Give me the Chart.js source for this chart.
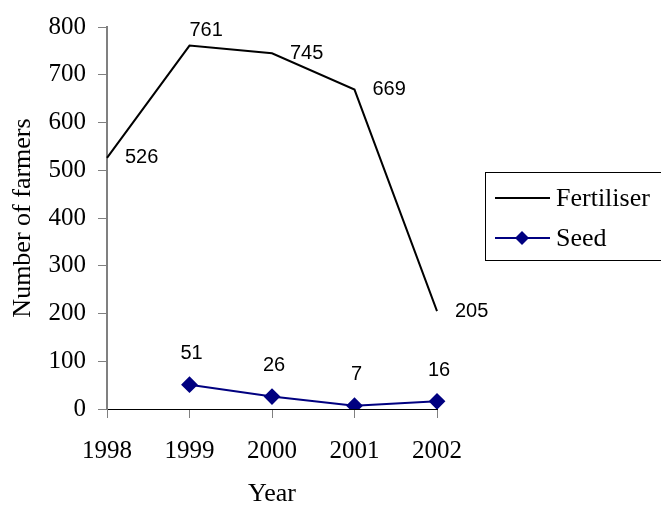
<!DOCTYPE html>
<html>
<head>
<meta charset="utf-8">
<script src="https://cdn.jsdelivr.net/npm/chart.js@4/dist/chart.umd.min.js"></script>
<style>
  html, body { margin: 0; padding: 0; background: #fff; }
  #wrap { width: 661px; height: 506px; }
</style>
</head>
<body>
<div id="wrap"><canvas id="chart" width="661" height="506"></canvas></div>
<script>
// Farmers receiving fertiliser and seed, by year
const years = ['1998', '1999', '2000', '2001', '2002'];
const fertiliser = [526, 761, 745, 669, 205];
const seed = [null, 51, 26, 7, 16];
const yTicks = [0, 100, 200, 300, 400, 500, 600, 700, 800];

const SERIF = '"Liberation Serif", "Times New Roman", Times, serif';
const SANS = '"Liberation Sans", Arial, Helvetica, sans-serif';
const NAVY = '#000080';

// Value labels next to each point
const valueLabels = {
  id: 'valueLabels',
  afterDatasetsDraw(chart) {
    const ctx = chart.ctx;
    ctx.save();
    ctx.font = '20px ' + SANS;
    ctx.fillStyle = '#000';
    ctx.textBaseline = 'middle';
    chart.data.datasets.forEach((ds, di) => {
      const meta = chart.getDatasetMeta(di);
      meta.data.forEach((pt, i) => {
        const v = ds.data[i];
        if (v === null || v === undefined) return;
        const place = (ds.labelPlacement || [])[i] || 'right';
        if (place === 'right') {
          ctx.textAlign = 'left';
          ctx.fillText(String(v), pt.x + 18, pt.y);
        } else if (place === 'aboveRight') {
          ctx.textAlign = 'left';
          ctx.fillText(String(v), pt.x, pt.y - 15);
        } else {
          ctx.textAlign = 'center';
          ctx.fillText(String(v), pt.x + 2, pt.y - 31);
        }
      });
    });
    ctx.restore();
  }
};

// Boxed legend on the right side
const boxLegend = {
  id: 'boxLegend',
  afterDraw(chart) {
    const ctx = chart.ctx;
    const left = 485.5, top = 172.5, h = 88;
    ctx.save();
    ctx.strokeStyle = '#000';
    ctx.lineWidth = 1;
    ctx.strokeRect(left, top, 200, h);
    ctx.font = '26px ' + SERIF;
    ctx.textAlign = 'left';
    ctx.textBaseline = 'middle';
    chart.data.datasets.forEach((ds, i) => {
      const y = 198 + i * 40;
      ctx.strokeStyle = ds.borderColor;
      ctx.lineWidth = 2;
      ctx.beginPath();
      ctx.moveTo(495, y);
      ctx.lineTo(550, y);
      ctx.stroke();
      if (ds.pointRadius > 0) {
        const r = 7;
        ctx.fillStyle = ds.pointBackgroundColor;
        ctx.beginPath();
        ctx.moveTo(522, y - r);
        ctx.lineTo(522 + r, y);
        ctx.lineTo(522, y + r);
        ctx.lineTo(522 - r, y);
        ctx.closePath();
        ctx.fill();
      }
      ctx.fillStyle = '#000';
      ctx.fillText(ds.label, 556, y + 1);
    });
    ctx.restore();
  }
};

new Chart(document.getElementById('chart'), {
  type: 'line',
  data: {
    labels: years,
    datasets: [
      {
        label: 'Fertiliser',
        data: fertiliser,
        borderColor: '#000',
        borderWidth: 2,
        pointRadius: 0,
        tension: 0,
        labelPlacement: ['right', 'aboveRight', 'right', 'right', 'right']
      },
      {
        label: 'Seed',
        data: seed,
        borderColor: NAVY,
        backgroundColor: NAVY,
        pointBackgroundColor: NAVY,
        pointBorderColor: NAVY,
        borderWidth: 2,
        pointStyle: 'rectRot',
        pointRadius: 7,
        tension: 0,
        labelPlacement: ['above', 'above', 'above', 'above', 'above']
      }
    ]
  },
  options: {
    responsive: false,
    animation: false,
    devicePixelRatio: 1,
    layout: { padding: { left: 8, right: 224, top: 24, bottom: 0 } },
    plugins: {
      legend: { display: false },
      tooltip: { enabled: false }
    },
    scales: {
      x: {
        type: 'category',
        offset: false,
        grid: { drawOnChartArea: false, drawTicks: true, tickLength: 9, color: '#808080' },
        border: { color: '#000', width: 1 },
        ticks: { font: { family: SERIF, size: 25 }, color: '#000', padding: 18, maxRotation: 0 },
        title: { display: true, text: 'Year', font: { family: SERIF, size: 26 }, color: '#000', padding: { top: 14, bottom: -4 } },
        afterFit(scale) { scale.height = 97; }
      },
      y: {
        min: 0,
        max: 800,
        afterBuildTicks(scale) { scale.ticks = yTicks.map(v => ({ value: v })); },
        grid: { drawOnChartArea: false, drawTicks: true, tickLength: 9, color: '#808080' },
        border: { color: '#808080', width: 2 },
        ticks: { font: { family: SERIF, size: 25 }, color: '#000', padding: 12 },
        title: { display: true, text: 'Number of farmers', font: { family: SERIF, size: 26 }, color: '#000', padding: 0 },
        afterFit(scale) { scale.width = 99; }
      }
    }
  },
  plugins: [valueLabels, boxLegend]
});
</script>
</body>
</html>
